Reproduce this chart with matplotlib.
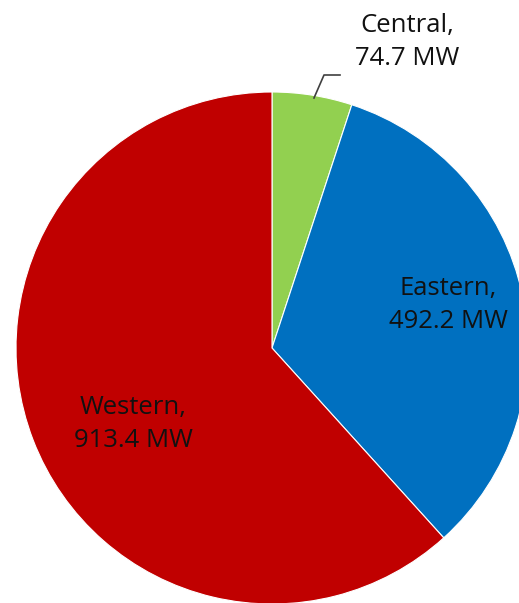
import matplotlib.pyplot as plt

regions = ['Central', 'Eastern', 'Western']
capacity_mw = [74.7, 492.2, 913.4]
colors = ['#92D050', '#0070C0', '#C00000']

W, H = 519, 603
fig = plt.figure(figsize=(W / 100, H / 100), dpi=100)
ax = fig.add_axes([0, 0, 1, 1])

# pie in pixel coords (y measured from bottom)
cx, cy, r = 272, H - 348, 256
ax.pie(capacity_mw, colors=colors, startangle=90, counterclock=False,
       center=(cx, cy), radius=r, frame=True,
       wedgeprops=dict(edgecolor='white', linewidth=0.8))
ax.set_xlim(0, W)
ax.set_ylim(0, H)
ax.set_aspect('equal')
ax.axis('off')

font = dict(family=['Open Sans', 'DejaVu Sans'], fontsize=18.5, color='#111111',
            ha='center', va='center', linespacing=1.45)
label_pos = [(407, 42), (448, 305), (133, 424)]
for name, val, (x, y) in zip(regions, capacity_mw, label_pos):
    ax.text(x, H - y, '{},\n{} MW'.format(name, val), **font)

# leader line for the small slice
ax.plot([314, 324, 340], [H - 98, H - 75, H - 75], color='#404040', lw=1.2)

fig.savefig('out.png', dpi=100)
